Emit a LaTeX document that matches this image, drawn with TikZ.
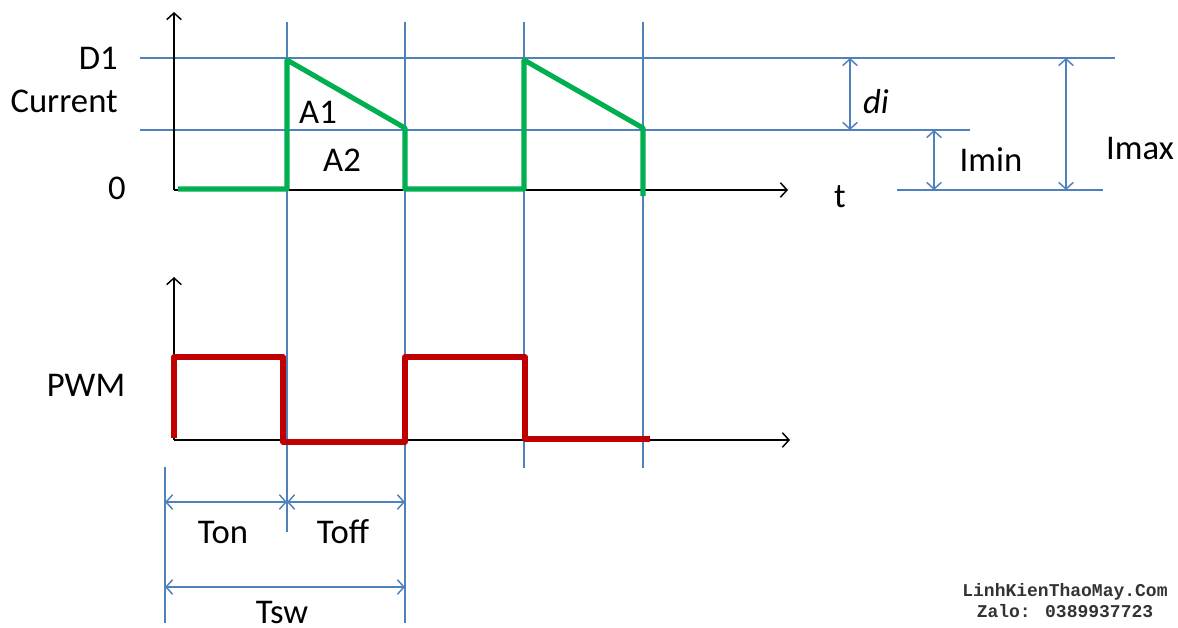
\documentclass[tikz,border=0pt]{standalone}
\usepackage{fontspec}
\setmainfont{Carlito}
\newfontfamily\wmfont{Liberation Mono}
\usetikzlibrary{arrows.meta}
\definecolor{gridblue}{HTML}{4F81BD}
\definecolor{wavegreen}{HTML}{00B050}
\definecolor{wavered}{HTML}{C00000}
\tikzset{
  gridline/.style={draw=gridblue, line width=1.1pt},
  axisline/.style={draw=black, line width=1.1pt, -{Straight Barb[length=5pt,width=11pt]}},
  dimline/.style={draw=gridblue, line width=1.1pt, {Straight Barb[length=5pt,width=11pt]}-{Straight Barb[length=5pt,width=11pt]}},
  greenwave/.style={draw=wavegreen, line width=3.8pt, line join=round},
  redwave/.style={draw=wavered, line width=3.8pt, line join=round},
  lbl/.style={font=\fontsize{26}{30}\selectfont, text=black, inner sep=0pt},
  wm/.style={font=\wmfont\bfseries\fontsize{13.5}{15}\selectfont, inner sep=0pt, text=black!80},
}
\begin{document}
\begin{tikzpicture}[x=0.75pt, y=-0.75pt]
\useasboundingbox (0,0) rectangle (1178,628);
% horizontal grid lines
\draw[gridline] (140,58) -- (1115,58);
\draw[gridline] (140,130) -- (970,130);
\draw[gridline] (897,190) -- (1103,190);
% vertical grid lines
\draw[gridline] (287,22) -- (287,532);
\draw[gridline] (405,22) -- (405,623);
\draw[gridline] (524,22) -- (524,468);
\draw[gridline] (643,22) -- (643,468);
\draw[gridline] (165,467) -- (165,623);
% axes
\draw[axisline] (174,190) -- (174,12);
\draw[axisline] (174,190) -- (788,190);
\draw[axisline] (174,440) -- (174,277);
\draw[axisline] (174,440) -- (790,440);
% waves
\draw[greenwave] (178,189) -- (287,189) -- (287,60) -- (405,128) -- (405,189) -- (524,189) -- (524,60) -- (643,128) -- (643,196);
\draw[redwave] (174,438) -- (174,357) -- (283,357) -- (283,442) -- (405,442) -- (405,357) -- (525,357) -- (525,439) -- (650,439);
% dimension arrows
\draw[dimline] (850,58) -- (850,130);
\draw[dimline] (934,130) -- (934,190);
\draw[dimline] (1066,58) -- (1066,190);
\draw[dimline] (165,502) -- (287,502);
\draw[dimline] (287,502) -- (405,502);
\draw[dimline] (165,587) -- (405,587);
% labels
\node[lbl, anchor=east] (d1) at (118,58) {D1};
\node[lbl, anchor=east] (cur) at (118,101) {Current};
\node[lbl, anchor=east] (zero) at (126,188) {0};
\node[lbl] (a1) at (318,112) {A1};
\node[lbl] (a2) at (342,160) {A2};
\node[lbl] (t) at (840,197) {t};
\node[lbl] (di) at (876,102) {\itshape di};
\node[lbl] (imin) at (991,160) {Imin};
\node[lbl] (imax) at (1140,149) {Imax};
\node[lbl] (pwm) at (86,385) {PWM};
\node[lbl] (ton) at (223,532) {Ton};
\node[lbl] (toff) at (343,532) {Toff};
\node[lbl] (tsw) at (282,612) {Tsw};
% watermark
\node[wm] (wm1) at (1065,592) {LinhKienThaoMay.Com};
\node[wm] (wm2) at (1065,611) {Zalo: 0389937723};
\end{tikzpicture}
\end{document}
